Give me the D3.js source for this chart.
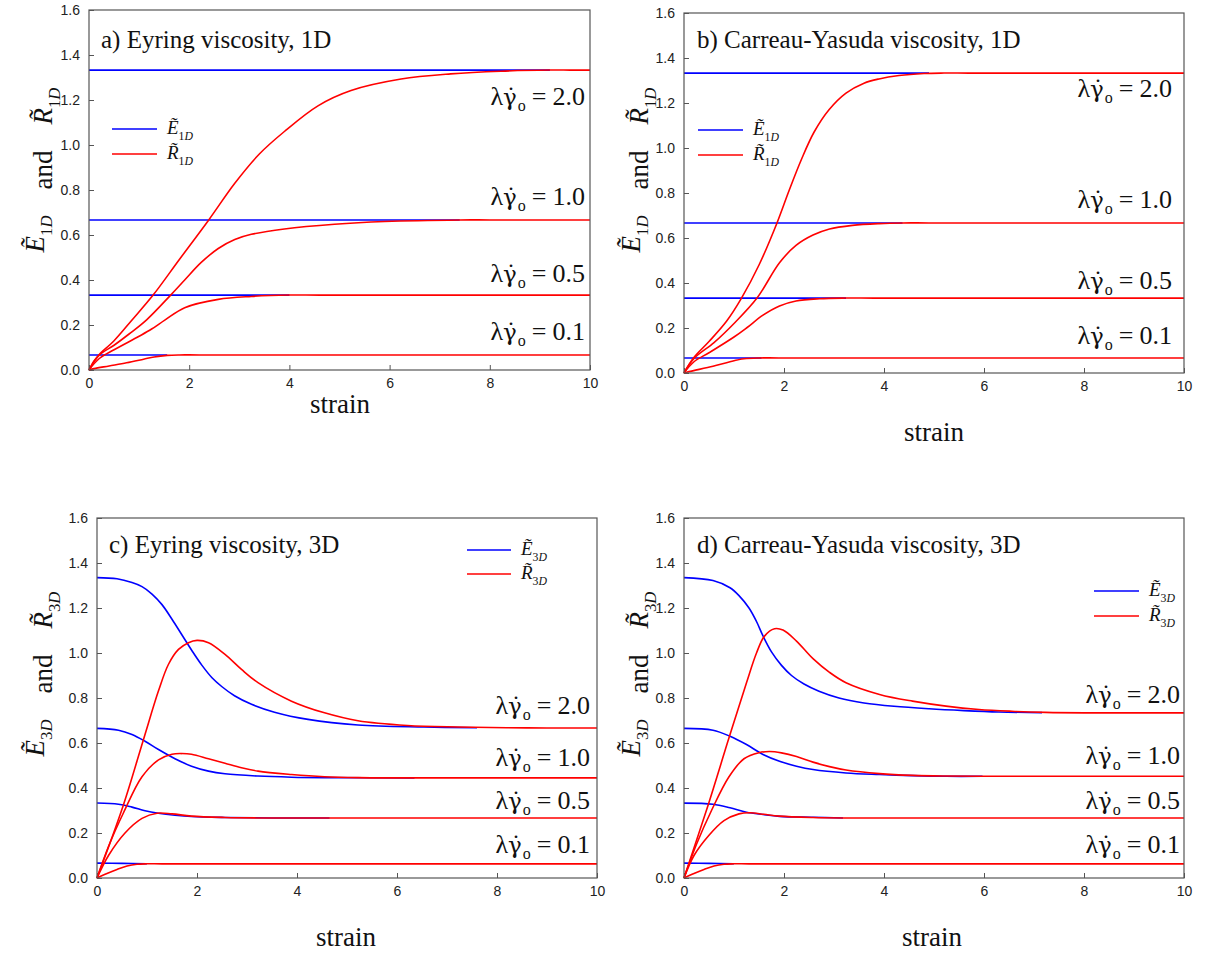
<!DOCTYPE html>
<html>
<head>
<meta charset="utf-8">
<script src="https://cdn.jsdelivr.net/npm/d3@7"></script>
<style>
  body { margin: 0; background: #fff; }
  svg { display: block; }
  .tick text { font-family: "Liberation Sans", Arial, sans-serif; font-size: 14px; fill: #222; }
  .serif { font-family: "Liberation Serif", "Times New Roman", serif; fill: #111; }
  .greek { font-family: "DejaVu Serif", serif; }
</style>
</head>
<body>
<div id="chart"></div>
<script>
// Axis ticks and shear-rate labels.
const strainTicks = [0, 2, 4, 6, 8, 10];
const valueTicks = [0, 0.2, 0.4, 0.6, 0.8, 1.0, 1.2, 1.4, 1.6];
const rates = ['2.0', '1.0', '0.5', '0.1'];

// a) Eyring 1D. Series order follows rates.
const eyring1D_E = [
  [[0, 1.333], [9.2, 1.333]],
  [[0, 0.667], [7.4, 0.667]],
  [[0, 0.333], [4.0, 0.333]],
  [[0, 0.067], [1.56, 0.067]]
];
const eyring1D_R = [
  [[0, 0], [0.1, 0.04], [0.2, 0.068], [0.5, 0.13], [0.85, 0.22], [1.28, 0.333], [1.8, 0.49], [2.39, 0.667], [2.91, 0.83], [3.4, 0.96], [3.9, 1.06], [4.57, 1.174], [5.23, 1.242], [6.23, 1.293], [7.22, 1.316], [8.22, 1.328], [9.2, 1.333], [9.6, 1.333], [10, 1.333]],
  [[0, 0], [0.2, 0.065], [0.5, 0.11], [0.8, 0.16], [1.15, 0.223], [1.63, 0.333], [1.91, 0.40], [2.24, 0.478], [2.58, 0.54], [2.91, 0.58], [3.24, 0.603], [3.9, 0.627], [4.9, 0.648], [5.9, 0.66], [7.4, 0.667], [8, 0.667], [10, 0.667]],
  [[0, 0], [0.2, 0.05], [0.5, 0.09], [1.0, 0.15], [1.25, 0.182], [1.52, 0.223], [1.91, 0.277], [2.58, 0.314], [3.24, 0.327], [4.0, 0.333], [4.6, 0.333], [10, 0.333]],
  [[0, 0], [0.1, 0.006], [0.4, 0.018], [0.75, 0.032], [1.09, 0.048], [1.3, 0.058], [1.56, 0.065], [1.8, 0.067], [2.2, 0.067], [10, 0.067]]
];

// b) Carreau-Yasuda 1D.
const carreau1D_E = [
  [[0, 1.333], [4.9, 1.333]],
  [[0, 0.667], [4.37, 0.667]],
  [[0, 0.333], [3.24, 0.333]],
  [[0, 0.067], [1.55, 0.067]]
];
const carreau1D_R = [
  [[0, 0], [0.19, 0.067], [0.5, 0.14], [0.85, 0.23], [1.15, 0.333], [1.5, 0.48], [1.86, 0.667], [2.1, 0.81], [2.35, 0.95], [2.6, 1.07], [2.9, 1.17], [3.24, 1.244], [3.6, 1.288], [3.9, 1.307], [4.3, 1.322], [4.8, 1.331], [5.2, 1.333], [5.7, 1.333], [10, 1.333]],
  [[0, 0], [0.2, 0.065], [0.6, 0.135], [1.0, 0.22], [1.46, 0.333], [1.91, 0.49], [2.24, 0.567], [2.58, 0.613], [2.91, 0.64], [3.37, 0.656], [3.9, 0.664], [4.37, 0.667], [4.9, 0.667], [10, 0.667]],
  [[0, 0], [0.2, 0.05], [0.5, 0.09], [1.0, 0.16], [1.25, 0.2], [1.58, 0.257], [1.91, 0.298], [2.24, 0.32], [2.71, 0.33], [3.24, 0.333], [3.8, 0.333], [10, 0.333]],
  [[0, 0], [0.1, 0.006], [0.58, 0.03], [0.92, 0.05], [1.2, 0.063], [1.5, 0.067], [1.9, 0.067], [10, 0.067]]
];

// c) Eyring 3D.
const eyring3D_E = [
  [[0, 1.335], [0.4, 1.33], [0.7, 1.313], [0.9, 1.295], [1.1, 1.262], [1.3, 1.215], [1.5, 1.15], [1.7, 1.08], [1.9, 1.01], [2.1, 0.945], [2.3, 0.89], [2.5, 0.85], [2.75, 0.81], [3.09, 0.772], [3.55, 0.737], [4.22, 0.705], [5.22, 0.68], [6.54, 0.671], [7.6, 0.668]],
  [[0, 0.665], [0.43, 0.657], [0.7, 0.638], [0.96, 0.608], [1.23, 0.571], [1.56, 0.53], [1.89, 0.497], [2.23, 0.475], [2.56, 0.463], [3.22, 0.453], [3.89, 0.448], [4.55, 0.446], [6.35, 0.445]],
  [[0, 0.333], [0.43, 0.328], [0.7, 0.315], [0.96, 0.299], [1.23, 0.288], [1.56, 0.279], [1.89, 0.273], [2.56, 0.269], [3.5, 0.267], [4.65, 0.267]],
  [[0, 0.066], [0.5, 0.065], [1.0, 0.063]]
];
const eyring3D_R = [
  [[0, 0], [0.53, 0.326], [0.93, 0.616], [1.23, 0.832], [1.43, 0.95], [1.63, 1.016], [1.83, 1.046], [2.0, 1.056], [2.23, 1.046], [2.56, 0.994], [2.89, 0.927], [3.22, 0.868], [3.89, 0.786], [4.55, 0.734], [5.22, 0.699], [6.21, 0.678], [7.21, 0.671], [8.2, 0.668], [9, 0.667], [10, 0.667]],
  [[0, 0], [0.23, 0.14], [0.53, 0.29], [0.9, 0.45], [1.23, 0.525], [1.5, 0.55], [1.69, 0.553], [1.89, 0.55], [2.23, 0.53], [2.56, 0.51], [2.89, 0.49], [3.22, 0.475], [3.89, 0.46], [4.55, 0.45], [5.22, 0.446], [6.0, 0.445], [6.8, 0.445], [10, 0.445]],
  [[0, 0], [0.23, 0.1], [0.56, 0.2], [0.9, 0.265], [1.2, 0.288], [1.5, 0.285], [1.89, 0.275], [2.56, 0.269], [3.2, 0.267], [3.8, 0.267], [10, 0.267]],
  [[0, 0], [0.2, 0.02], [0.4, 0.038], [0.6, 0.053], [0.8, 0.061], [1.0, 0.063], [1.3, 0.063], [10, 0.063]]
];

// d) Carreau-Yasuda 3D.
const carreau3D_E = [
  [[0, 1.335], [0.58, 1.322], [0.92, 1.29], [1.1, 1.255], [1.3, 1.2], [1.45, 1.14], [1.58, 1.076], [1.75, 1.005], [1.95, 0.945], [2.15, 0.9], [2.4, 0.862], [2.7, 0.83], [3.1, 0.8], [3.6, 0.778], [4.2, 0.763], [4.9, 0.752], [5.6, 0.744], [6.3, 0.738], [7.16, 0.735]],
  [[0, 0.665], [0.58, 0.657], [0.92, 0.63], [1.25, 0.593], [1.58, 0.549], [1.91, 0.519], [2.25, 0.497], [2.58, 0.482], [3.24, 0.467], [3.91, 0.46], [4.57, 0.455], [5.24, 0.452], [5.97, 0.452]],
  [[0, 0.333], [0.58, 0.328], [0.92, 0.312], [1.25, 0.292], [1.58, 0.282], [1.91, 0.274], [2.58, 0.27], [3.18, 0.267]],
  [[0, 0.066], [0.5, 0.065], [1.0, 0.063]]
];
const carreau3D_R = [
  [[0, 0], [0.485, 0.326], [0.9, 0.623], [1.25, 0.868], [1.45, 1.0], [1.61, 1.075], [1.81, 1.108], [1.98, 1.102], [2.25, 1.053], [2.58, 0.975], [2.91, 0.914], [3.24, 0.868], [3.91, 0.816], [4.57, 0.786], [5.24, 0.764], [5.9, 0.749], [6.56, 0.741], [7.23, 0.736], [8.0, 0.734], [8.8, 0.734], [10, 0.734]],
  [[0, 0], [0.25, 0.15], [0.55, 0.3], [0.9, 0.45], [1.2, 0.53], [1.5, 0.557], [1.71, 0.562], [1.95, 0.556], [2.25, 0.54], [2.58, 0.515], [2.91, 0.495], [3.24, 0.48], [3.91, 0.464], [4.57, 0.456], [5.24, 0.453], [6.0, 0.452], [6.8, 0.452], [10, 0.452]],
  [[0, 0], [0.2, 0.1], [0.5, 0.19], [0.8, 0.255], [1.1, 0.285], [1.32, 0.29], [1.6, 0.283], [1.91, 0.275], [2.58, 0.269], [3.2, 0.267], [3.8, 0.267], [10, 0.267]],
  [[0, 0], [0.2, 0.02], [0.4, 0.038], [0.6, 0.053], [0.8, 0.061], [1.0, 0.063], [1.3, 0.063], [10, 0.063]]
];

// SVG constants.
const width = 1207;
const height = 955;
const blue = '#0000ff';
const red = '#ff0000';

const panels = [
  { box: { l: 89, r: 590, t: 10, b: 370 }, title: 'a) Eyring viscosity, 1D', sub: '1D', E: eyring1D_E, R: eyring1D_R,
    titlePos: [101, 48], labelRight: 585, labelY: [105, 205, 282, 340],
    legend: { x1: 112, x2: 157, y: 129, gap: 25 }, yLabel: [44, 170], xLabel: [340, 413] },
  { box: { l: 684, r: 1184, t: 13, b: 373 }, title: 'b) Carreau-Yasuda viscosity, 1D', sub: '1D', E: carreau1D_E, R: carreau1D_R,
    titlePos: [697, 48], labelRight: 1172, labelY: [97, 208, 289, 344],
    legend: { x1: 698, x2: 743, y: 130, gap: 25 }, yLabel: [640, 170], xLabel: [934, 441] },
  { box: { l: 97, r: 597, t: 518, b: 878 }, title: 'c) Eyring viscosity, 3D', sub: '3D', E: eyring3D_E, R: eyring3D_R,
    titlePos: [109, 553], labelRight: 590, labelY: [714, 766, 809, 853],
    legend: { x1: 467, x2: 511, y: 550, gap: 24 }, yLabel: [44, 674], xLabel: [346, 946] },
  { box: { l: 684, r: 1184, t: 518, b: 878 }, title: 'd) Carreau-Yasuda viscosity, 3D', sub: '3D', E: carreau3D_E, R: carreau3D_R,
    titlePos: [697, 553], labelRight: 1180, labelY: [703, 764, 809, 853],
    legend: { x1: 1094, x2: 1139, y: 591, gap: 25 }, yLabel: [640, 674], xLabel: [932, 946] }
];

const svg = d3.select('#chart')
  .append('svg')
  .attr('width', width)
  .attr('height', height);

// Writes a tilde symbol with a subscript like "1D" into a text node.
function tildeSymbol(text, letter, sub, size, dx) {
  text.append('tspan').attr('dx', dx || 0).attr('font-style', 'italic').text(letter + '\u0303');
  text.append('tspan').attr('dy', size * 0.3).attr('font-size', size * 0.62).text(sub[0]);
  text.append('tspan').attr('font-style', 'italic').attr('font-size', size * 0.62).text(sub.slice(1));
  text.append('tspan').attr('dy', -size * 0.3).text('');
}

panels.forEach((p) => {
  const x = d3.scaleLinear().domain([0, 10]).range([p.box.l, p.box.r]);
  const y = d3.scaleLinear().domain([0, 1.6]).range([p.box.b, p.box.t]);
  const g = svg.append('g');

  const line = d3.line()
    .x((d) => x(d[0]))
    .y((d) => y(d[1]))
    .curve(d3.curveCatmullRom.alpha(0.5));

  // Axes with inward ticks.
  g.append('g')
    .attr('transform', 'translate(' + p.box.l + ',0)')
    .call(d3.axisLeft(y).tickValues(valueTicks).tickFormat(d3.format('.1f')).tickSizeInner(-5).tickSizeOuter(0).tickPadding(9))
    .call((a) => a.select('.domain').remove())
    .call((a) => a.selectAll('.tick line').attr('stroke', '#555'));

  g.append('g')
    .attr('transform', 'translate(0,' + p.box.b + ')')
    .call(d3.axisBottom(x).tickValues(strainTicks).tickFormat(d3.format('d')).tickSizeInner(-5).tickSizeOuter(0).tickPadding(8))
    .call((a) => a.select('.domain').remove())
    .call((a) => a.selectAll('.tick line').attr('stroke', '#555'));

  // Curves: E first, R on top.
  g.append('g').selectAll('path')
    .data(p.E)
    .enter()
    .append('path')
    .attr('d', line)
    .attr('fill', 'none')
    .attr('stroke', blue)
    .attr('stroke-width', 1.6);

  g.append('g').selectAll('path')
    .data(p.R)
    .enter()
    .append('path')
    .attr('d', line)
    .attr('fill', 'none')
    .attr('stroke', red)
    .attr('stroke-width', 1.6);

  // Frame.
  g.append('rect')
    .attr('x', p.box.l)
    .attr('y', p.box.t)
    .attr('width', p.box.r - p.box.l)
    .attr('height', p.box.b - p.box.t)
    .attr('fill', 'none')
    .attr('stroke', '#555')
    .attr('stroke-width', 1.2);

  // Title.
  g.append('text')
    .attr('class', 'serif')
    .attr('x', p.titlePos[0])
    .attr('y', p.titlePos[1])
    .attr('font-size', 25)
    .text(p.title);

  // Shear rate labels: lambda gamma-dot with subscript o.
  rates.forEach((r, i) => {
    const t = g.append('text')
      .attr('class', 'serif')
      .attr('x', p.labelRight)
      .attr('y', p.labelY[i])
      .attr('text-anchor', 'end')
      .attr('font-size', 26);
    t.append('tspan').text('\u03bb');
    t.append('tspan').attr('class', 'greek').attr('font-size', 23).text('\u03b3\u0307');
    t.append('tspan').attr('dx', 1).attr('dy', 6).attr('font-size', 16).text('o');
    t.append('tspan').attr('dx', 6).attr('dy', -6).text('=');
    t.append('tspan').attr('dx', 6).text(r);
  });

  // Legend.
  const lg = g.append('g');
  [blue, red].forEach((c, i) => {
    lg.append('line')
      .attr('x1', p.legend.x1)
      .attr('x2', p.legend.x2)
      .attr('y1', p.legend.y + i * p.legend.gap)
      .attr('y2', p.legend.y + i * p.legend.gap)
      .attr('stroke', c)
      .attr('stroke-width', 1.6);
    const t = lg.append('text')
      .attr('class', 'serif')
      .attr('x', p.legend.x2 + 10)
      .attr('y', p.legend.y + i * p.legend.gap + 5)
      .attr('font-size', 19);
    tildeSymbol(t, i === 0 ? 'E' : 'R', p.sub, 19);
  });

  // Y axis label.
  const yl = g.append('text')
    .attr('class', 'serif')
    .attr('transform', 'translate(' + p.yLabel[0] + ',' + p.yLabel[1] + ') rotate(-90)')
    .attr('text-anchor', 'middle')
    .attr('font-size', 27);
  tildeSymbol(yl, 'E', p.sub, 27);
  yl.append('tspan').attr('dx', 26).text('and');
  tildeSymbol(yl, 'R', p.sub, 27, 26);

  // X axis label.
  g.append('text')
    .attr('class', 'serif')
    .attr('x', p.xLabel[0])
    .attr('y', p.xLabel[1])
    .attr('text-anchor', 'middle')
    .attr('font-size', 27)
    .text('strain');
});
</script>
</body>
</html>
